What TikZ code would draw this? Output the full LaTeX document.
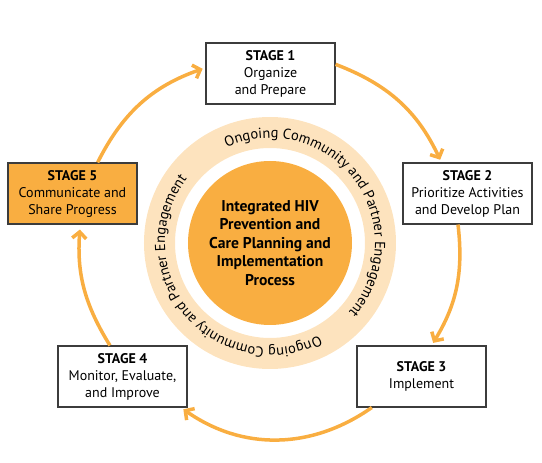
\documentclass[tikz,border=0pt]{standalone}
\usepackage{fontspec}
\setmainfont{PT Sans}
\usetikzlibrary{arrows.meta,decorations.text}

\definecolor{hivorange}{HTML}{F9AE41}
\definecolor{ringpeach}{HTML}{FDE3BE}
\definecolor{boxline}{HTML}{3C3C3C}

\tikzset{
  stagebox/.style={draw=boxline, line width=1.1pt, fill=white,
    minimum width=129pt, minimum height=61pt, inner sep=2pt,
    align=center, font=\fontsize{14}{17}\selectfont},
  flow/.style={draw=hivorange, line width=3.5pt, shorten >=3pt,
    -{Straight Barb[length=6.5pt,width=14pt]}},
  ringtext/.style={decorate, decoration={text along path, text align=center,
    text={|\fontsize{14.5}{16}\selectfont|#1}}}
}

\begin{document}
\begin{tikzpicture}[x=1pt,y=1pt]
    \useasboundingbox (-270,-220) rectangle (272,243);

    % Define radii
    \coordinate (O) at (0,0);
    \def\ringOut{126pt}
    \def\ringIn{95pt}
    \def\core{82pt}
    \def\textR{105pt}

    % Ring and core circle
    \fill[ringpeach, even odd rule] (O) circle (\ringOut) circle (\ringIn);
    \fill[hivorange] (O) circle (\core);
    \node[align=center, font=\bfseries\fontsize{15.6}{18.5}\selectfont] (core) at (O)
      {Integrated HIV\\Prevention and\\Care Planning and\\Implementation\\Process};

    % Text on the ring
    \path[ringtext=Ongoing Community and Partner Engagement]
      (116:\textR) arc[start angle=116, end angle=-43, radius=\textR];
    \path[ringtext=Ongoing Community and Partner Engagement]
      (-60:\textR) arc[start angle=-60, end angle=-220, radius=\textR];

    % Stages
    \node[stagebox] (s1) at (0.5,169.5) {\textbf{STAGE 1}\\Organize\\and Prepare};
    \node[stagebox] (s2) at (197.5,49.5) {\textbf{STAGE 2}\\Prioritize Activities\\and Develop Plan};
    \node[stagebox] (s3) at (151.5,-133.5) {\textbf{STAGE 3}\\Implement};
    \node[stagebox] (s4) at (-147.5,-133.5) {\textbf{STAGE 4}\\Monitor, Evaluate,\\and Improve};
    \node[stagebox, fill=hivorange] (s5) at (-197.5,49.5) {\textbf{STAGE 5}\\Communicate and\\Share Progress};

    % Arrows between stages
    \draw[flow] (s1.8) to[bend left=22] (s2.130);
    \draw[flow] (s2.-107) to[bend left=19] (s3.72);
    \draw[flow] (s3.-148) to[bend left=35] (s4.-28);
    \draw[flow, shorten >=5pt] (s4.112) to[bend left=18] (s5.-76);
    \draw[flow] (s5.51) to[bend left=22] (s1.175);
\end{tikzpicture}
\end{document}
